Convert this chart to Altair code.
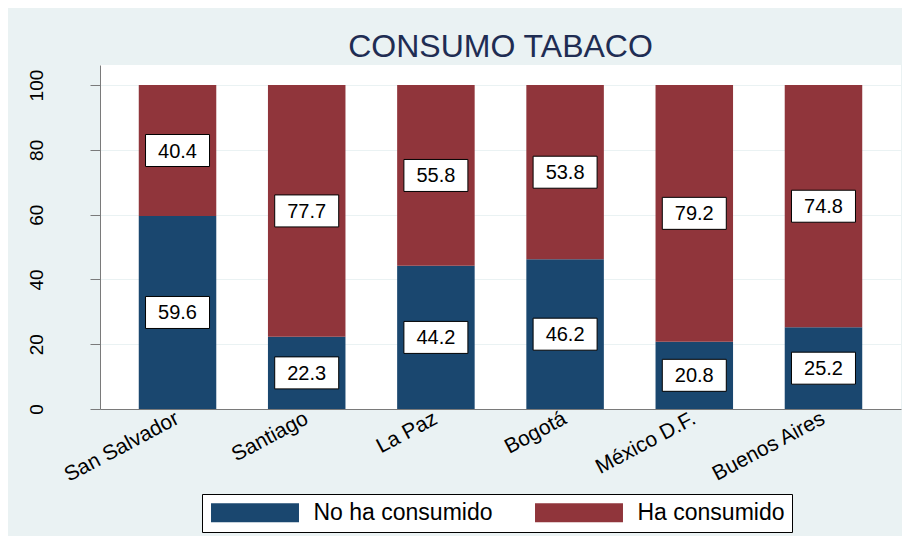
import altair as alt
import pandas as pd

ciudades = ["San Salvador", "Santiago", "La Paz", "Bogotá", "México D.F.", "Buenos Aires"]
no_ha = [59.6, 22.3, 44.2, 46.2, 20.8, 25.2]
ha = [40.4, 77.7, 55.8, 53.8, 79.2, 74.8]
series = ["No ha consumido", "Ha consumido"]
colores = ["#1A476F", "#90353B"]
y_ticks = [0, 20, 40, 60, 80, 100]

rows = []
for i, c in enumerate(ciudades):
    rows.append({"ciudad": c, "grupo": series[0], "orden": 0, "valor": no_ha[i]})
    rows.append({"ciudad": c, "grupo": series[1], "orden": 1, "valor": ha[i]})
df = pd.DataFrame(rows)

FONT = "Liberation Sans, Arial, Helvetica, sans-serif"
GREY = "#7a7a7a"

xscale = alt.Scale(paddingInner=0.4, paddingOuter=0.3)
xaxis = alt.Axis(labelAngle=332, labelAlign="right", labelBaseline="middle",
                 labelFontSize=21, labelFont=FONT, labelColor="black",
                 ticks=False, labelPadding=8, domainColor=GREY, grid=False)
yscale = alt.Scale(domain=[0, 106.2], nice=False, zero=True)
yaxis = alt.Axis(values=y_ticks, labelAngle=270, labelAlign="center", labelBaseline="bottom",
                 labelFontSize=19, labelFont=FONT, labelColor="black",
                 tickSize=10, tickColor=GREY, domainColor=GREY,
                 gridColor="#EAF2F3", labelPadding=44)

base = alt.Chart(df)

bars = base.mark_bar().encode(
    x=alt.X("ciudad:N", sort=ciudades, title=None, scale=xscale, axis=xaxis),
    y=alt.Y("valor:Q", stack="zero", title=None, scale=yscale, axis=yaxis),
    color=alt.Color("grupo:N", scale=alt.Scale(domain=series, range=colores),
                    legend=alt.Legend(title=None, orient="none", legendX=102, legendY=429,
                                      direction="horizontal",
                                      symbolType="M-4.63,-1H4.63V1H-4.63Z", symbolSize=361,
                                      symbolStrokeWidth=0, symbolOpacity=1, symbolOffset=34.5,
                                      labelFontSize=23, labelFont=FONT, labelColor="black",
                                      labelLimit=400,
                                      labelOffset=47, columnPadding=40, padding=7,
                                      fillColor="white", strokeColor="black")),
    order=alt.Order("orden:Q"),
)

lab = base.transform_stack(
    stack="valor", as_=["y0", "y1"], groupby=["ciudad"], sort=[alt.SortField("orden")]
).transform_calculate(mid="(datum.y0 + datum.y1) / 2")

boxes = lab.mark_point(shape="M-1,-0.5H1V0.5H-1Z", size=4096, filled=True,
                       fill="white", fillOpacity=1, stroke="black", strokeWidth=1,
                       opacity=1).encode(
    x=alt.X("ciudad:N", sort=ciudades, title=None, scale=xscale, axis=xaxis),
    y=alt.Y("mid:Q", title=None, scale=yscale, axis=yaxis),
)

texts = lab.mark_text(fontSize=20, font=FONT, color="black", dy=1).encode(
    x=alt.X("ciudad:N", sort=ciudades, title=None, scale=xscale, axis=xaxis),
    y=alt.Y("mid:Q", title=None, scale=yscale, axis=yaxis),
    text=alt.Text("valor:Q", format=".1f"),
)

chart = alt.layer(bars, boxes, texts).properties(
    width=801, height=344,
    title=alt.TitleParams("CONSUMO TABACO", fontSize=32, font=FONT, color="#1F2D53",
                          fontWeight="normal", anchor="middle", offset=1),
    autosize=alt.AutoSizeParams(type="none"),
    padding={"left": 92, "top": 57, "right": 1, "bottom": 127},
    background="#EAF2F3",
).configure_view(fill="white", strokeWidth=0)

chart.save("out.html", embed_options={"renderer": "svg", "actions": False})
